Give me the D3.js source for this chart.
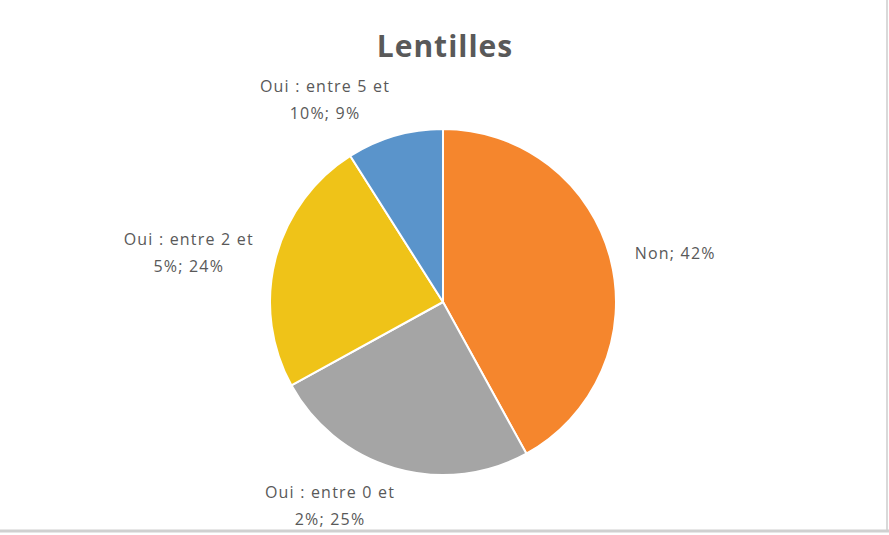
<!DOCTYPE html>
<html>
<head>
<meta charset="utf-8">
<script src="https://cdn.jsdelivr.net/npm/d3@7"></script>
<style>
  body { margin: 0; background: #fff; }
  svg text { font-family: "Open Sans", "Liberation Sans", sans-serif; fill: #595959; }
</style>
</head>
<body>
<div class="chart"></div>
<script>
// data
var categories = ["Non", "Oui : entre 0 et 2%", "Oui : entre 2 et 5%", "Oui : entre 5 et 10%"];
var values = [42, 25, 24, 9];
var colors = ["#F5862D", "#A5A5A5", "#EFC318", "#5A94CB"];
// label lines (Excel wraps the long names)
var labelLines = [
    ["Non; 42%"],
    ["Oui : entre 0 et", "2%; 25%"],
    ["Oui : entre 2 et", "5%; 24%"],
    ["Oui : entre 5 et", "10%; 9%"]
];

var width = 889, height = 535,
    cx = 443, cy = 302,
    radius = 173,
    labelRadius = 215,
    lineHeight = 27;

// small nudges so labels sit like Excel's "best fit"
var labelNudgeX = [24, -53, -46, -58];
var labelNudgeY = [4, -3, 4, 4];

var svg = d3.select(".chart")
    .append("svg")
    .attr("width", width)
    .attr("height", height);

// chart frame (only right/bottom edges show)
svg.append("line")
    .attr("x1", width - 2).attr("x2", width - 2)
    .attr("y1", 0).attr("y2", height - 3)
    .attr("stroke", "#d9d9d9").attr("stroke-width", 2);
svg.append("line")
    .attr("x1", 0).attr("x2", width)
    .attr("y1", height - 4).attr("y2", height - 4)
    .attr("stroke", "#d0d0d0").attr("stroke-width", 3);

svg.append("text")
    .attr("x", 445)
    .attr("y", 57)
    .attr("text-anchor", "middle")
    .style("font-size", "30px")
    .style("font-weight", "bold")
    .style("letter-spacing", "1px")
    .text("Lentilles");

var pieData = categories.map(function (c, i) {
    return { name: c, value: values[i], color: colors[i], lines: labelLines[i],
             dx: labelNudgeX[i], dy: labelNudgeY[i] };
});

var pie = d3.pie()
    .value(function (d) { return d.value; })
    .sort(null);

var arc = d3.arc()
    .innerRadius(0)
    .outerRadius(radius);

var labelArc = d3.arc()
    .innerRadius(labelRadius)
    .outerRadius(labelRadius);

var g = svg.append("g")
    .attr("transform", `translate(${cx}, ${cy})`);

g.selectAll("path")
    .data(pie(pieData))
    .enter()
    .append("path")
    .attr("d", arc)
    .attr("fill", function (d) { return d.data.color; })
    .attr("stroke", "#fff")
    .attr("stroke-width", 2)
    .attr("stroke-linejoin", "round");

var labels = g.selectAll(".label")
    .data(pie(pieData))
    .enter()
    .append("text")
    .attr("class", "label")
    .attr("text-anchor", "middle")
    .style("font-size", "16px")
    .style("letter-spacing", "1.2px")
    .attr("transform", function (d) {
        var c = labelArc.centroid(d);
        return `translate(${c[0] + d.data.dx}, ${c[1] + d.data.dy})`;
    });

labels.each(function (d) {
    var t = d3.select(this);
    var n = d.data.lines.length;
    d.data.lines.forEach(function (line, i) {
        t.append("tspan")
            .attr("x", 0)
            .attr("y", (i - (n - 1) / 2) * lineHeight + 6)
            .text(line);
    });
});
</script>
</body>
</html>
